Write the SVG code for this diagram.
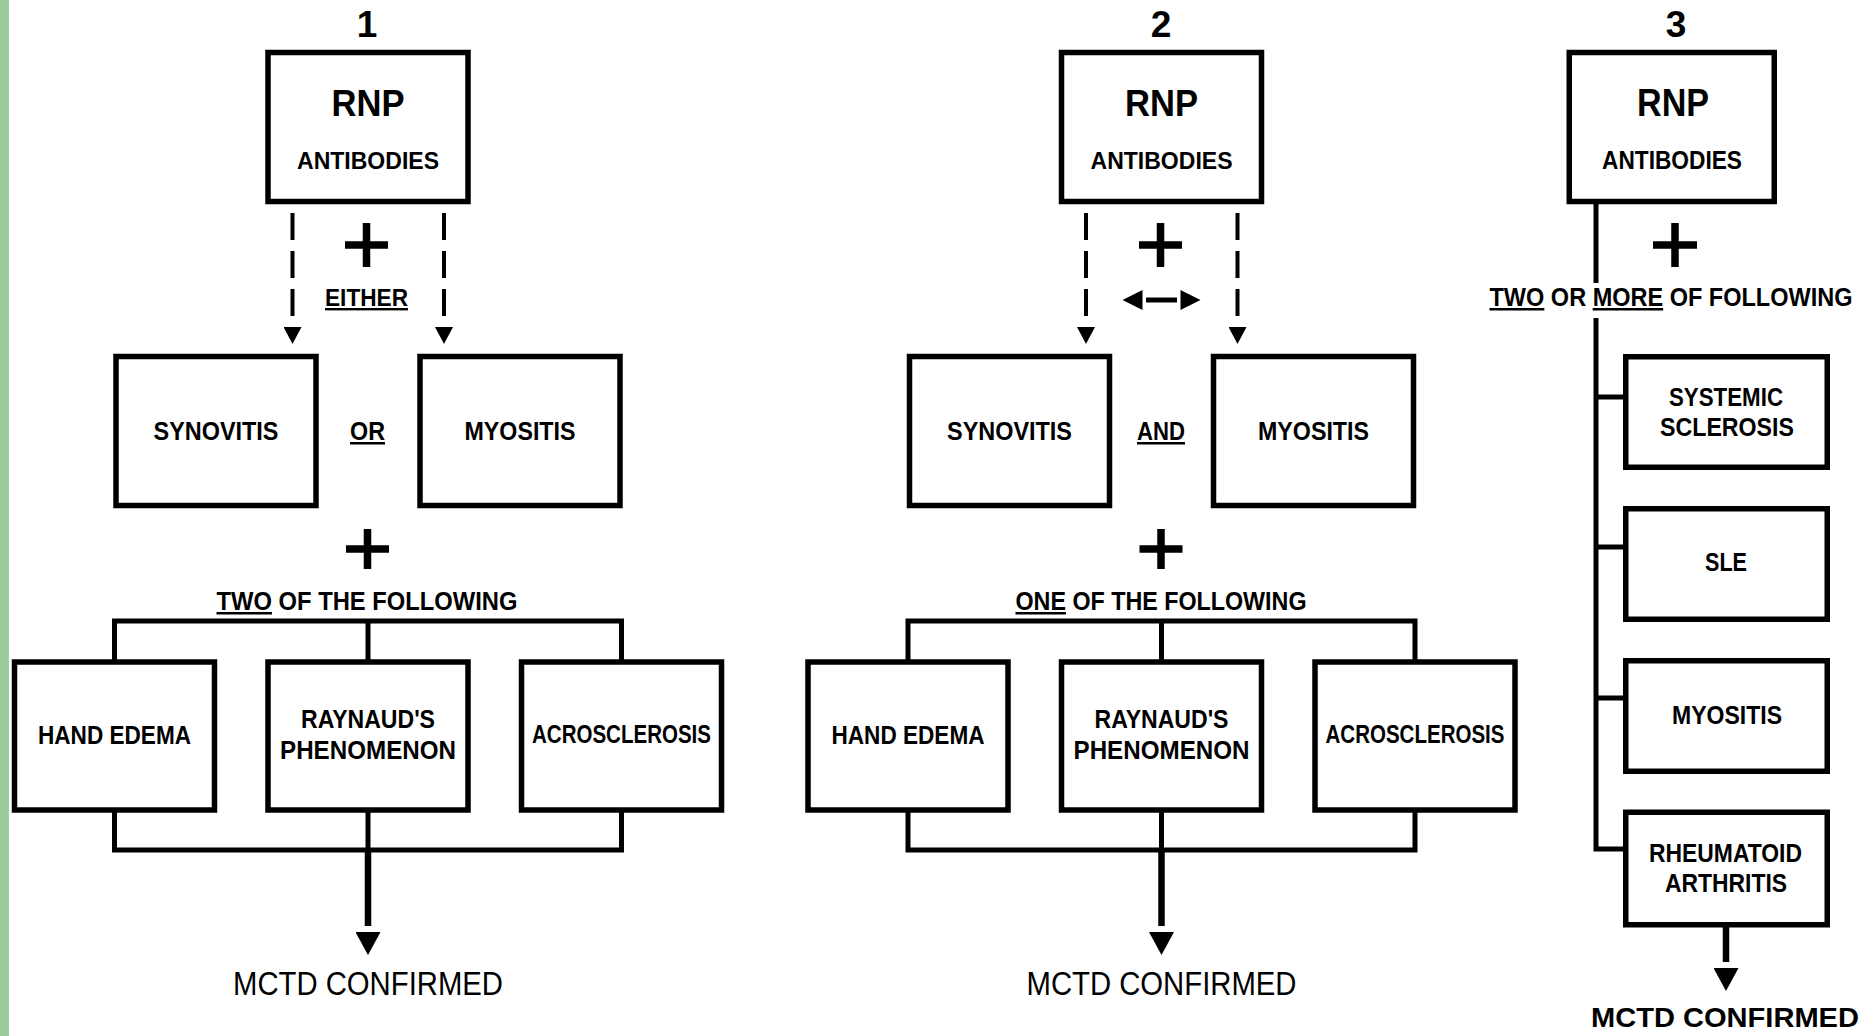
<svg xmlns="http://www.w3.org/2000/svg" width="1875" height="1036" viewBox="0 0 1875 1036">
<style>
.box{fill:#fff;stroke:#000;stroke-width:5.5}
.ln{fill:none;stroke:#000;stroke-width:5}
.stem{fill:none;stroke:#000;stroke-width:6.5}
.dash{fill:none;stroke:#000;stroke-width:4;stroke-dasharray:27 11}
.plus{fill:none;stroke:#000;stroke-width:7.5}
.n{font-family:"Liberation Sans",Arial,sans-serif;font-weight:bold;text-anchor:middle;fill:#000}
.r{font-family:"Liberation Sans",Arial,sans-serif;font-weight:normal;text-anchor:middle;fill:#000}
.u{text-decoration:underline}
</style>
<defs>
<marker id="ah" markerUnits="userSpaceOnUse" markerWidth="29" markerHeight="25" viewBox="0 -12.5 29 25" refX="0" refY="0" orient="auto"><path d="M6,-12.5 L29,0 L6,12.5 z" fill="#000"/></marker>
<marker id="ahs" markerUnits="userSpaceOnUse" markerWidth="19" markerHeight="18" viewBox="0 -9 19 18" refX="0" refY="0" orient="auto"><path d="M2,-9 L19,0 L2,9 z" fill="#000"/></marker>
<marker id="ahd" markerUnits="userSpaceOnUse" markerWidth="24" markerHeight="20" viewBox="0 -10 24 20" refX="0" refY="0" orient="auto-start-reverse"><path d="M3.5,-10 L23.5,0 L3.5,10 z" fill="#000"/></marker>
</defs>
<rect x="0" y="0" width="1875" height="1036" fill="#fff"/>
<rect x="0" y="0" width="9" height="1036" fill="#9ccc9c"/>

<g id="connectors">
  <!-- panel 1 -->
  <line class="dash" x1="292.5" y1="213" x2="292.5" y2="325" marker-end="url(#ahs)"/>
  <line class="dash" x1="444" y1="213" x2="444" y2="325" marker-end="url(#ahs)"/>
  <path class="ln" d="M114.5,662 V621 H621.5 V662 M368,621 V662"/>
  <path class="ln" d="M114.5,810 V850 H621.5 V810 M368,810 V850"/>
  <line class="stem" x1="368" y1="850" x2="368" y2="926" marker-end="url(#ah)"/>
  <!-- panel 2 -->
  <line class="dash" x1="1086" y1="213" x2="1086" y2="325" marker-end="url(#ahs)"/>
  <line class="dash" x1="1237.5" y1="213" x2="1237.5" y2="325" marker-end="url(#ahs)"/>
  <line class="ln" x1="1146" y1="300" x2="1177" y2="300" marker-start="url(#ahd)" marker-end="url(#ahd)"/>
  <path class="ln" d="M908,662 V621 H1415 V662 M1161.5,621 V662"/>
  <path class="ln" d="M908,810 V850 H1415 V810 M1161.5,810 V850"/>
  <line class="stem" x1="1161.5" y1="850" x2="1161.5" y2="926" marker-end="url(#ah)"/>
  <!-- panel 3 -->
  <path class="ln" d="M1596,204 V283 M1596,318 V849 H1624 M1596,397 H1624 M1596,547 H1624 M1596,698 H1624" stroke-width="5.5"/>
  <line class="stem" x1="1726" y1="927" x2="1726" y2="962" marker-end="url(#ah)"/>
</g>

<g id="operators">
  <path class="plus" d="M345,245 H388 M366.5,223 V267"/>
  <path class="plus" d="M346,549 H389 M367.5,529 V569"/>
  <path class="plus" d="M1139,245 H1182 M1160.5,223 V267"/>
  <path class="plus" d="M1139.5,549 H1182.5 M1161,529 V569"/>
  <path class="plus" d="M1653,245 H1697 M1675,223 V267"/>
</g>

<g id="labels">
  <text class="n" x="367" y="37" font-size="37">1</text>
  <text class="n" x="1161" y="37" font-size="37">2</text>
  <text class="n" x="1676" y="37" font-size="37">3</text>
  <text class="n u" x="366.5" y="306" font-size="24" textLength="83" lengthAdjust="spacingAndGlyphs">EITHER</text>
  <text class="n u" x="367.5" y="440" font-size="25" textLength="35" lengthAdjust="spacingAndGlyphs">OR</text>
  <text class="n u" x="1161" y="440" font-size="25" textLength="48" lengthAdjust="spacingAndGlyphs">AND</text>
  <text class="n" x="367" y="610" font-size="25" textLength="301" lengthAdjust="spacingAndGlyphs"><tspan class="u">TWO</tspan> OF THE FOLLOWING</text>
  <text class="n" x="1161" y="610" font-size="25" textLength="291" lengthAdjust="spacingAndGlyphs"><tspan class="u">ONE</tspan> OF THE FOLLOWING</text>
  <text class="n" x="1671" y="306" font-size="25" textLength="363" lengthAdjust="spacingAndGlyphs"><tspan class="u">TWO</tspan> OR <tspan class="u">MORE</tspan> OF FOLLOWING</text>
  <text class="r" x="368" y="995" font-size="33" textLength="270" lengthAdjust="spacingAndGlyphs">MCTD CONFIRMED</text>
  <text class="r" x="1161.5" y="995" font-size="33" textLength="270" lengthAdjust="spacingAndGlyphs">MCTD CONFIRMED</text>
  <text class="n" x="1725" y="1027" font-size="28" textLength="268" lengthAdjust="spacingAndGlyphs">MCTD CONFIRMED</text>
</g>

<!-- panel 1 nodes -->
<g id="p1-rnp">
  <rect class="box" x="268" y="52.5" width="200" height="149"/>
  <text class="n" x="368" y="116" font-size="37" textLength="73" lengthAdjust="spacingAndGlyphs">RNP</text>
  <text class="n" x="368" y="169" font-size="24" textLength="142" lengthAdjust="spacingAndGlyphs">ANTIBODIES</text>
</g>
<g id="p1-synovitis">
  <rect class="box" x="116" y="356.5" width="200" height="149"/>
  <text class="n" x="216" y="440" font-size="25" textLength="125" lengthAdjust="spacingAndGlyphs">SYNOVITIS</text>
</g>
<g id="p1-myositis">
  <rect class="box" x="420" y="356.5" width="200" height="149"/>
  <text class="n" x="520" y="440" font-size="25" textLength="111" lengthAdjust="spacingAndGlyphs">MYOSITIS</text>
</g>
<g id="p1-hand-edema">
  <rect class="box" x="14.5" y="662" width="200" height="148"/>
  <text class="n" x="114.5" y="744" font-size="25" textLength="153" lengthAdjust="spacingAndGlyphs">HAND EDEMA</text>
</g>
<g id="p1-raynaud">
  <rect class="box" x="268" y="662" width="200" height="148"/>
  <text class="n" x="368" y="728" font-size="25" textLength="134" lengthAdjust="spacingAndGlyphs">RAYNAUD'S</text>
  <text class="n" x="368" y="759" font-size="25" textLength="176" lengthAdjust="spacingAndGlyphs">PHENOMENON</text>
</g>
<g id="p1-acrosclerosis">
  <rect class="box" x="521.5" y="662" width="200" height="148"/>
  <text class="n" x="621.5" y="743" font-size="25" textLength="179" lengthAdjust="spacingAndGlyphs">ACROSCLEROSIS</text>
</g>

<!-- panel 2 nodes -->
<g id="p2-rnp">
  <rect class="box" x="1061.5" y="52.5" width="200" height="149"/>
  <text class="n" x="1161.5" y="116" font-size="37" textLength="73" lengthAdjust="spacingAndGlyphs">RNP</text>
  <text class="n" x="1161.5" y="169" font-size="24" textLength="142" lengthAdjust="spacingAndGlyphs">ANTIBODIES</text>
</g>
<g id="p2-synovitis">
  <rect class="box" x="909.5" y="356.5" width="200" height="149"/>
  <text class="n" x="1009.5" y="440" font-size="25" textLength="125" lengthAdjust="spacingAndGlyphs">SYNOVITIS</text>
</g>
<g id="p2-myositis">
  <rect class="box" x="1213.5" y="356.5" width="200" height="149"/>
  <text class="n" x="1313.5" y="440" font-size="25" textLength="111" lengthAdjust="spacingAndGlyphs">MYOSITIS</text>
</g>
<g id="p2-hand-edema">
  <rect class="box" x="808" y="662" width="200" height="148"/>
  <text class="n" x="908" y="744" font-size="25" textLength="153" lengthAdjust="spacingAndGlyphs">HAND EDEMA</text>
</g>
<g id="p2-raynaud">
  <rect class="box" x="1061.5" y="662" width="200" height="148"/>
  <text class="n" x="1161.5" y="728" font-size="25" textLength="134" lengthAdjust="spacingAndGlyphs">RAYNAUD'S</text>
  <text class="n" x="1161.5" y="759" font-size="25" textLength="176" lengthAdjust="spacingAndGlyphs">PHENOMENON</text>
</g>
<g id="p2-acrosclerosis">
  <rect class="box" x="1315" y="662" width="200" height="148"/>
  <text class="n" x="1415" y="743" font-size="25" textLength="179" lengthAdjust="spacingAndGlyphs">ACROSCLEROSIS</text>
</g>

<!-- panel 3 nodes -->
<g id="p3-rnp">
  <rect class="box" x="1569.25" y="52.5" width="205" height="149"/>
  <text class="n" x="1673" y="116" font-size="38" textLength="72" lengthAdjust="spacingAndGlyphs">RNP</text>
  <text class="n" x="1672" y="168.5" font-size="25" textLength="140" lengthAdjust="spacingAndGlyphs">ANTIBODIES</text>
</g>
<g id="p3-systemic-sclerosis">
  <rect class="box" x="1625.75" y="356.75" width="201.5" height="110.5"/>
  <text class="n" x="1726" y="406" font-size="26" textLength="114" lengthAdjust="spacingAndGlyphs">SYSTEMIC</text>
  <text class="n" x="1727" y="436" font-size="26" textLength="134" lengthAdjust="spacingAndGlyphs">SCLEROSIS</text>
</g>
<g id="p3-sle">
  <rect class="box" x="1625.75" y="508.75" width="201.5" height="110.5"/>
  <text class="n" x="1726" y="571" font-size="26" textLength="42" lengthAdjust="spacingAndGlyphs">SLE</text>
</g>
<g id="p3-myositis">
  <rect class="box" x="1625.75" y="660.75" width="201.5" height="110.5"/>
  <text class="n" x="1727" y="724" font-size="26" textLength="110" lengthAdjust="spacingAndGlyphs">MYOSITIS</text>
</g>
<g id="p3-rheumatoid-arthritis">
  <rect class="box" x="1625.75" y="812.25" width="201.5" height="112.5"/>
  <text class="n" x="1725.5" y="862" font-size="26" textLength="153" lengthAdjust="spacingAndGlyphs">RHEUMATOID</text>
  <text class="n" x="1726" y="892" font-size="26" textLength="122" lengthAdjust="spacingAndGlyphs">ARTHRITIS</text>
</g>
</svg>
